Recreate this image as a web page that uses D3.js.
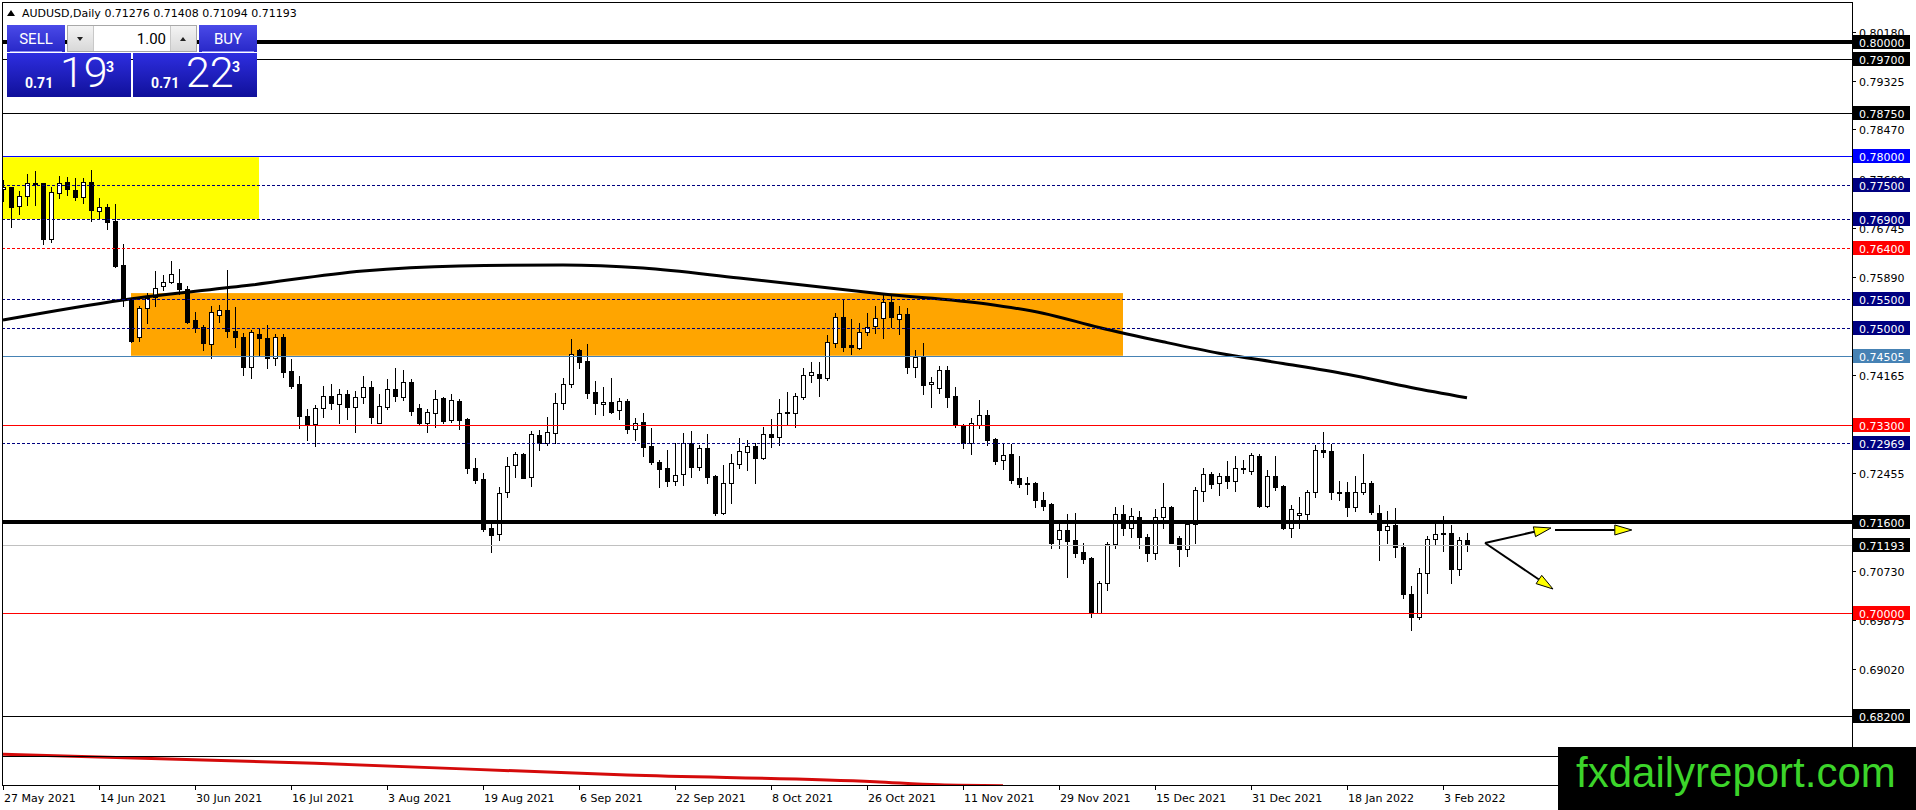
<!DOCTYPE html>
<html><head><meta charset="utf-8">
<script src="https://cdn.jsdelivr.net/npm/d3@7"></script>
<style>html,body{margin:0;padding:0;background:#fff;overflow:hidden}svg{display:block}</style>
</head><body>
<svg id="chart" width="1916" height="810"></svg>
<script>
// ---------------- DATA ----------------
const symbolTitle = "AUDUSD,Daily 0.71276 0.71408 0.71094 0.71193";
const sellQuote = ["0.71", "19", "3"];
const buyQuote = ["0.71", "22", "3"];
const lotSize = "1.00";
const watermarkText = "fxdailyreport.com";

const open = [0.77420,0.77455,0.77128,0.77309,0.77520,0.77525,0.76544,0.77350,0.77543,0.77408,0.77291,0.77543,0.77047,0.77105,0.76865,0.76089,0.75482,0.74828,0.75336,0.75529,0.75733,0.75803,0.75786,0.75669,0.75131,0.75003,0.74711,0.75219,0.75307,0.74945,0.74840,0.74314,0.74886,0.74810,0.74460,0.74828,0.74238,0.74005,0.73456,0.73304,0.73585,0.73807,0.73655,0.73830,0.73614,0.73777,0.73964,0.73334,0.73614,0.73917,0.73790,0.74052,0.73596,0.73322,0.73509,0.73760,0.73380,0.73713,0.73398,0.72534,0.72347,0.71483,0.71380,0.72113,0.72592,0.72778,0.72376,0.73117,0.72971,0.73158,0.73672,0.74004,0.74606,0.74413,0.73864,0.73654,0.73701,0.73555,0.73712,0.73216,0.73339,0.72924,0.72650,0.72545,0.72317,0.72434,0.72971,0.72562,0.72895,0.72405,0.71757,0.72270,0.72603,0.72825,0.72924,0.72720,0.73135,0.73077,0.73514,0.73497,0.73789,0.74163,0.74180,0.74122,0.74723,0.75178,0.74694,0.74647,0.74915,0.75026,0.75160,0.75441,0.75143,0.75230,0.74314,0.74490,0.74005,0.73935,0.74256,0.73800,0.73292,0.72971,0.73292,0.73468,0.73041,0.72680,0.72779,0.72358,0.72282,0.72282,0.71979,0.71909,0.71290,0.71454,0.71278,0.71062,0.70969,0.70006,0.70520,0.71203,0.71728,0.71483,0.71675,0.71325,0.71045,0.71687,0.71850,0.71319,0.71115,0.71553,0.72137,0.72434,0.72282,0.72405,0.72317,0.72533,0.72492,0.72749,0.71880,0.72405,0.72224,0.71482,0.71720,0.71733,0.72113,0.72854,0.72837,0.72125,0.72113,0.71850,0.72113,0.72271,0.71745,0.71453,0.71541,0.71161,0.70326,0.69924,0.70694,0.71290,0.71395,0.71395,0.70764,0.71276];
const high = [0.77583,0.77467,0.77397,0.77689,0.77747,0.77537,0.77455,0.77654,0.77630,0.77613,0.77613,0.77759,0.77262,0.77163,0.77163,0.76457,0.75493,0.75377,0.75598,0.75990,0.75920,0.76165,0.76019,0.75733,0.75277,0.75044,0.75377,0.75394,0.76007,0.75365,0.74898,0.74956,0.74968,0.75044,0.74881,0.74881,0.74443,0.74151,0.73573,0.73643,0.73982,0.74005,0.73917,0.73906,0.73888,0.74151,0.74069,0.73830,0.74093,0.74285,0.74256,0.74093,0.73655,0.73573,0.73906,0.73777,0.73830,0.73742,0.73421,0.72709,0.72446,0.71570,0.72201,0.72738,0.72825,0.72807,0.73187,0.73205,0.73426,0.73847,0.74109,0.74798,0.74617,0.74711,0.74063,0.73963,0.74109,0.73771,0.73742,0.73410,0.73496,0.73234,0.72679,0.72854,0.72971,0.73158,0.73187,0.72942,0.73129,0.72416,0.72591,0.72778,0.73059,0.73030,0.72971,0.73263,0.73392,0.73742,0.73864,0.73847,0.74297,0.74402,0.74390,0.74869,0.75260,0.75493,0.75143,0.75085,0.75260,0.75376,0.75569,0.75569,0.75376,0.75336,0.74606,0.74734,0.74139,0.74326,0.74332,0.73952,0.73310,0.73409,0.73730,0.73555,0.73059,0.72954,0.72954,0.72749,0.72376,0.72300,0.72125,0.71921,0.71570,0.71734,0.71745,0.71220,0.70986,0.70561,0.71249,0.71851,0.71891,0.71833,0.71792,0.71378,0.71815,0.72271,0.71874,0.71348,0.71600,0.72212,0.72533,0.72475,0.72458,0.72662,0.72750,0.72679,0.72808,0.72784,0.72504,0.72749,0.72241,0.71890,0.72037,0.72154,0.72942,0.73175,0.72954,0.72311,0.72299,0.72399,0.72784,0.72311,0.71890,0.71786,0.71833,0.71231,0.70472,0.70782,0.71348,0.71558,0.71698,0.71541,0.71336,0.71408];
const low = [0.77221,0.76766,0.76988,0.77146,0.77146,0.76463,0.76503,0.77262,0.77321,0.77233,0.77175,0.76871,0.76912,0.76719,0.76066,0.75377,0.74752,0.74769,0.75073,0.75377,0.75657,0.75786,0.75587,0.75073,0.74927,0.74606,0.74460,0.75102,0.74828,0.74653,0.74168,0.74110,0.74519,0.74285,0.74344,0.74128,0.73935,0.73234,0.73030,0.72925,0.73439,0.73567,0.73322,0.73392,0.73176,0.73672,0.73322,0.73322,0.73567,0.73713,0.73731,0.73468,0.73293,0.73176,0.73252,0.73334,0.73339,0.73217,0.72446,0.72271,0.71442,0.71074,0.71280,0.72037,0.72387,0.72358,0.72230,0.72854,0.72942,0.72976,0.73572,0.73963,0.74284,0.73759,0.73479,0.73467,0.73508,0.73391,0.73146,0.73029,0.72755,0.72609,0.72212,0.72224,0.72241,0.72241,0.72375,0.72504,0.72270,0.71716,0.71733,0.71932,0.72533,0.72504,0.72271,0.72691,0.72913,0.72942,0.73292,0.73263,0.73742,0.74052,0.73800,0.74081,0.74653,0.74588,0.74536,0.74618,0.74869,0.74898,0.74810,0.75014,0.74880,0.74209,0.74139,0.73835,0.73614,0.73859,0.73614,0.73263,0.72884,0.72779,0.73234,0.72942,0.72604,0.72516,0.72282,0.72212,0.72084,0.71851,0.71804,0.71144,0.71144,0.70636,0.70975,0.70870,0.69936,0.69994,0.70403,0.71144,0.71366,0.71337,0.71132,0.70916,0.70940,0.71483,0.71220,0.70823,0.70998,0.71220,0.71967,0.72183,0.72066,0.72183,0.72142,0.72457,0.72434,0.71862,0.71862,0.72154,0.71465,0.71325,0.71482,0.71628,0.72025,0.72738,0.71990,0.71979,0.71704,0.71792,0.72078,0.71728,0.70928,0.71231,0.70986,0.70256,0.69702,0.69889,0.70356,0.71191,0.71091,0.70531,0.70665,0.71094];
const close = [0.77467,0.77116,0.77309,0.77525,0.77530,0.76556,0.77379,0.77525,0.77420,0.77291,0.77543,0.77058,0.77105,0.76854,0.76077,0.75493,0.74769,0.75336,0.75511,0.75698,0.75803,0.75931,0.75669,0.75102,0.74985,0.74723,0.75277,0.75307,0.74945,0.74828,0.74314,0.74916,0.74810,0.74460,0.74828,0.74227,0.73982,0.73456,0.73293,0.73585,0.73807,0.73672,0.73830,0.73614,0.73777,0.73964,0.73439,0.73625,0.73917,0.73807,0.74040,0.73544,0.73322,0.73515,0.73742,0.73369,0.73731,0.73380,0.72545,0.72329,0.71465,0.71366,0.72107,0.72580,0.72778,0.72370,0.73129,0.72971,0.73164,0.73672,0.74004,0.74530,0.74401,0.73858,0.73672,0.73701,0.73526,0.73712,0.73216,0.73333,0.72913,0.72638,0.72521,0.72317,0.72416,0.72971,0.72562,0.72895,0.72387,0.71757,0.72270,0.72632,0.72837,0.72924,0.72720,0.73129,0.73077,0.73497,0.73497,0.73800,0.74163,0.74215,0.74122,0.74740,0.75178,0.74664,0.74664,0.74915,0.75015,0.75160,0.75441,0.75190,0.75230,0.74314,0.74490,0.73993,0.74040,0.74256,0.73789,0.73292,0.72971,0.73322,0.73468,0.73030,0.72668,0.72767,0.72329,0.72253,0.72253,0.71979,0.71880,0.71220,0.71454,0.71267,0.71057,0.70940,0.69994,0.70520,0.71208,0.71728,0.71483,0.71705,0.71325,0.71045,0.71687,0.71850,0.71232,0.71115,0.71553,0.72154,0.72428,0.72253,0.72405,0.72317,0.72534,0.72515,0.72767,0.71874,0.72405,0.72212,0.71482,0.71815,0.71760,0.72113,0.72854,0.72813,0.72113,0.72107,0.71850,0.72113,0.72271,0.71774,0.71453,0.71529,0.71150,0.70326,0.69924,0.70694,0.71290,0.71377,0.71377,0.70764,0.71278,0.71193];

const dateTickBars = [0,12,24,36,48,60,72,84,96,108,120,132,144,156,168,180];
const dateTickLabels = ["27 May 2021","14 Jun 2021","30 Jun 2021","16 Jul 2021","3 Aug 2021","19 Aug 2021","6 Sep 2021","22 Sep 2021","8 Oct 2021","26 Oct 2021","11 Nov 2021","29 Nov 2021","15 Dec 2021","31 Dec 2021","18 Jan 2022","3 Feb 2022"];

// visible price-scale ticks (the ones fully hidden under level labels are left out)
const priceTicks = [0.80180,0.79325,0.78470,0.77600,0.76745,0.75890,0.74165,0.72455,0.70730,0.69875,0.69020];
const priceTickLabels = ["0.80180","0.79325","0.78470","0.77600","0.76745","0.75890","0.74165","0.72455","0.70730","0.69875","0.69020"];

const levelPrices = [0.80000,0.79700,0.78750,0.78000,0.77500,0.76900,0.76400,0.75500,0.75000,0.74505,0.73300,0.72969,0.71600,0.71193,0.70000,0.68200,0.67500];
const levelLabels = ["0.80000","0.79700","0.78750","0.78000","0.77500","0.76900","0.76400","0.75500","0.75000","0.74505","0.73300","0.72969","0.71600","0.71193","0.70000","0.68200","0.67500"];

// 200-day moving average (bar index, price)
const maBars = [0,15,31,45,57,70,80,92,110,123,130,137,145,152,160,168,176,183];
const maValues = [0.75131,0.75482,0.75744,0.75990,0.76077,0.76095,0.76042,0.75867,0.75587,0.75412,0.75250,0.75000,0.74750,0.74550,0.74370,0.74180,0.73950,0.73770];

// red long-period average at the bottom
const redBars = [0,39,78,109,117,125];
const redValues = [0.67526,0.67368,0.67163,0.67046,0.66990,0.66975];

// zones: [startBar, endBar] and [topPrice, bottomPrice]
const zoneBars = [[-1,32],[16,140]];
const zonePrices = [[0.78000,0.76900],[0.75620,0.74505]];

// arrows drawn on the chart: from (bar, price) to (bar, price)
const arrowFrom = [[185.25,0.71226],[194.0,0.71454],[185.25,0.71226]];
const arrowTo = [[193.5,0.71489],[203.6,0.71454],[193.75,0.70420]];

// ---------------- DRAWING ----------------
const svg = d3.select("#chart");
const PL = 2, PR = 1852, PT = 2, PB = 785;
const x = d3.scaleLinear().domain([0, close.length - 1]).range([3, 1467]);
const y = d3.scaleLinear().domain([0.70, 0.80]).range([613, 42]);
const FONT = "DejaVu Sans, Verdana, sans-serif";

const defs = svg.append("defs");
defs.append("clipPath").attr("id","plot").append("rect")
  .attr("x",PL).attr("y",PT).attr("width",PR-PL).attr("height",PB-PT+1);
function grad(id, c1, c2){
  const g = defs.append("linearGradient").attr("id",id).attr("x1",0).attr("y1",0).attr("x2",0).attr("y2",1);
  g.append("stop").attr("offset","0%").attr("stop-color",c1);
  g.append("stop").attr("offset","100%").attr("stop-color",c2);
}
grad("gBtn","#4a4ae8","#2828c8");
grad("gPrice","#2e2ee0","#10109a");
grad("gGray","#f4f4f4","#d8d8d8");

svg.append("rect").attr("width",1916).attr("height",810).attr("fill","#fff");

const plot = svg.append("g").attr("clip-path","url(#plot)");

// zones (background)
const zoneFill = ["#ffff00","#ffa500"];
plot.selectAll("rect.zone").data(zoneBars).join("rect")
  .attr("x",(d)=>x(d[0]))
  .attr("width",(d)=>x(d[1])-x(d[0]))
  .attr("y",(d,i)=>y(zonePrices[i][0])+1)
  .attr("height",(d,i)=>y(zonePrices[i][1])-y(zonePrices[i][0])-1)
  .attr("fill",(d,i)=>zoneFill[i]);

// candles
const bars = d3.range(close.length).map(i=>({i,o:open[i],h:high[i],l:low[i],c:close[i]}));
plot.selectAll("line.wick").data(bars).join("line")
  .attr("x1",d=>x(d.i)+0.5).attr("x2",d=>x(d.i)+0.5)
  .attr("y1",d=>Math.round(y(d.h))).attr("y2",d=>Math.round(y(d.l))+1)
  .attr("stroke","#000").attr("stroke-width",1);
plot.selectAll("rect.body").data(bars).join("rect")
  .attr("x",d=>x(d.i)-1.5).attr("width",4)
  .attr("y",d=>Math.round(y(Math.max(d.o,d.c)))+0.5)
  .attr("height",d=>Math.max(0,Math.round(y(Math.min(d.o,d.c)))-Math.round(y(Math.max(d.o,d.c)))))
  .attr("fill",d=>d.c>=d.o?"#fff":"#000")
  .attr("stroke","#000").attr("stroke-width",1);

// moving averages
const maLine = d3.line().x(d=>x(d[0])).y(d=>y(d[1])).curve(d3.curveMonotoneX);
plot.append("path").datum(maBars.map((b,i)=>[b,maValues[i]]))
  .attr("d",maLine).attr("fill","none").attr("stroke","#000").attr("stroke-width",3);
plot.append("path").datum(redBars.map((b,i)=>[b,redValues[i]]))
  .attr("d",maLine).attr("fill","none").attr("stroke","#d40a0a").attr("stroke-width",3);

// horizontal levels
const S = {
  thickBlack:{c:"#000",w:4,dash:null,box:"#000"},
  black:{c:"#000",w:1,dash:null,box:"#000"},
  blue:{c:"#0000ff",w:1,dash:null,box:"#0000ff"},
  navyDash:{c:"#000080",w:1,dash:"3,2",box:"#000080"},
  redDash:{c:"#ff0000",w:1,dash:"3,2",box:"#ff0000"},
  steel:{c:"#4682b4",w:1,dash:null,box:"#4682b4"},
  red:{c:"#ff0000",w:1,dash:null,box:"#ff0000"},
  bid:{c:"#c0c0c0",w:1,dash:null,box:"#000"}
};
const styleOf = {"0.80000":"thickBlack","0.79700":"black","0.78750":"black","0.78000":"blue","0.77500":"navyDash","0.76900":"navyDash","0.76400":"redDash","0.75500":"navyDash","0.75000":"navyDash","0.74505":"steel","0.73300":"red","0.72969":"navyDash","0.71600":"thickBlack","0.71193":"bid","0.70000":"red","0.68200":"black","0.67500":"black"};
const lv = levelPrices.map((p,i)=>({p,label:levelLabels[i],s:S[styleOf[levelLabels[i]]]}));
plot.selectAll("line.level").data(lv).join("line")
  .attr("x1",PL).attr("x2",PR)
  .attr("y1",d=>d.s.w%2?Math.round(y(d.p))+0.5:Math.round(y(d.p)))
  .attr("y2",d=>d.s.w%2?Math.round(y(d.p))+0.5:Math.round(y(d.p)))
  .attr("stroke",d=>d.s.c).attr("stroke-width",d=>d.s.w)
  .attr("stroke-dasharray",d=>d.s.dash);

// arrows
const ar = arrowFrom.map((f,i)=>({x1:x(f[0]),y1:y(f[1]),x2:x(arrowTo[i][0]),y2:y(arrowTo[i][1])}));
ar.forEach(a=>{
  const ang = Math.atan2(a.y2-a.y1,a.x2-a.x1), L=17, hw=5;
  const bx = a.x2-L*Math.cos(ang), by = a.y2-L*Math.sin(ang);
  plot.append("line").attr("x1",a.x1).attr("y1",a.y1).attr("x2",bx).attr("y2",by)
    .attr("stroke","#000").attr("stroke-width",2);
  const px=-Math.sin(ang)*hw, py=Math.cos(ang)*hw;
  plot.append("path").attr("d",`M${a.x2},${a.y2}L${bx+px},${by+py}L${bx-px},${by-py}Z`)
    .attr("fill","#ffff00").attr("stroke","#000").attr("stroke-width",1);
});

// frame
svg.append("rect").attr("x",PL+0.5).attr("y",PT+0.5).attr("width",PR-PL).attr("height",PB-PT)
  .attr("fill","none").attr("stroke","#000").attr("stroke-width",1);

// price axis ticks + labels
const pt = priceTicks.map((p,i)=>({p,t:priceTickLabels[i]}));
svg.selectAll("line.ptick").data(pt).join("line")
  .attr("x1",PR).attr("x2",PR+4)
  .attr("y1",d=>Math.round(y(d.p))+0.5).attr("y2",d=>Math.round(y(d.p))+0.5)
  .attr("stroke","#000");
svg.selectAll("text.ptick").data(pt).join("text")
  .attr("x",PR+7).attr("y",d=>Math.round(y(d.p))+4.5)
  .attr("font-family",FONT).attr("font-size",11).attr("fill","#000").text(d=>d.t);

// level price labels
svg.selectAll("rect.lbox").data(lv).join("rect")
  .attr("x",PR+1).attr("width",57)
  .attr("y",d=>Math.round(y(d.p))-7).attr("height",14)
  .attr("fill",d=>d.s.box);
svg.selectAll("text.lbl").data(lv).join("text")
  .attr("x",PR+7).attr("y",d=>Math.round(y(d.p))+4.5)
  .attr("font-family",FONT).attr("font-size",11).attr("fill","#fff").text(d=>d.label);

// time axis
const tt = dateTickBars.map((b,i)=>({b,t:dateTickLabels[i]}));
svg.selectAll("line.ttick").data(tt).join("line")
  .attr("x1",d=>x(d.b)+0.5).attr("x2",d=>x(d.b)+0.5)
  .attr("y1",PB).attr("y2",PB+5).attr("stroke","#000");
svg.selectAll("text.ttick").data(tt).join("text")
  .attr("x",d=>x(d.b)+1).attr("y",PB+17)
  .attr("font-family",FONT).attr("font-size",11).attr("fill","#000").text(d=>d.t);

// header
svg.append("path").attr("d","M7,16L15,16L11,10Z").attr("fill","#000");
svg.append("text").attr("x",22).attr("y",17).attr("font-family",FONT).attr("font-size",11)
  .attr("fill","#000").text(symbolTitle);

// one click trading panel
const P = svg.append("g");
const PF = "Roboto, 'Open Sans', sans-serif";
P.append("rect").attr("x",7).attr("y",25).attr("width",58).attr("height",27).attr("fill","url(#gBtn)");
P.append("rect").attr("x",199).attr("y",25).attr("width",58).attr("height",27).attr("fill","url(#gBtn)");
P.append("line").attr("x1",10).attr("x2",62).attr("y1",51.5).attr("y2",51.5).attr("stroke","#8c8cf4");
P.append("line").attr("x1",202).attr("x2",254).attr("y1",51.5).attr("y2",51.5).attr("stroke","#8c8cf4");
P.append("text").attr("x",36).attr("y",44).attr("text-anchor","middle").attr("font-family",PF)
  .attr("font-size",15).attr("fill","#fff").text("SELL");
P.append("text").attr("x",228).attr("y",44).attr("text-anchor","middle").attr("font-family",PF)
  .attr("font-size",15).attr("fill","#fff").text("BUY");
P.append("rect").attr("x",67.5).attr("y",25.5).attr("width",129).attr("height",26).attr("fill","#fff").attr("stroke","#a8a8a8");
P.append("rect").attr("x",68).attr("y",26).attr("width",25).attr("height",25).attr("fill","url(#gGray)");
P.append("rect").attr("x",171).attr("y",26).attr("width",25).attr("height",25).attr("fill","url(#gGray)");
P.append("line").attr("x1",93.5).attr("x2",93.5).attr("y1",26).attr("y2",51).attr("stroke","#c8c8c8");
P.append("line").attr("x1",170.5).attr("x2",170.5).attr("y1",26).attr("y2",51).attr("stroke","#c8c8c8");
P.append("path").attr("d","M77,37L83,37L80,41Z").attr("fill","#222");
P.append("path").attr("d","M180,41L186,41L183,37Z").attr("fill","#222");
P.append("text").attr("x",166).attr("y",44).attr("text-anchor","end").attr("font-family",PF)
  .attr("font-size",15).attr("fill","#000").text(lotSize);
[[7,sellQuote],[133,buyQuote]].forEach(([bx,q])=>{
  P.append("rect").attr("x",bx).attr("y",53).attr("width",124).attr("height",44).attr("fill","url(#gPrice)");
  P.append("text").attr("x",bx+18).attr("y",88).attr("font-family",PF).attr("font-weight","bold")
    .attr("font-size",14).attr("fill","#fff").text(q[0]);
  P.append("text").attr("x",bx+53).attr("y",87).attr("font-family",PF).attr("font-weight",300)
    .attr("font-size",43).attr("fill","#fff").text(q[1]);
  P.append("text").attr("x",bx+99).attr("y",72).attr("font-family",PF).attr("font-weight","bold")
    .attr("font-size",14).attr("fill","#fff").text(q[2]);
});

// watermark
svg.append("rect").attr("x",1558).attr("y",747).attr("width",358).attr("height",63).attr("fill","#000");
svg.append("text").attr("x",1576).attr("y",787).attr("font-family","'Liberation Sans', Arial, sans-serif")
  .attr("font-size",42).attr("fill","#3cd42a").text(watermarkText);
</script>
</body></html>
